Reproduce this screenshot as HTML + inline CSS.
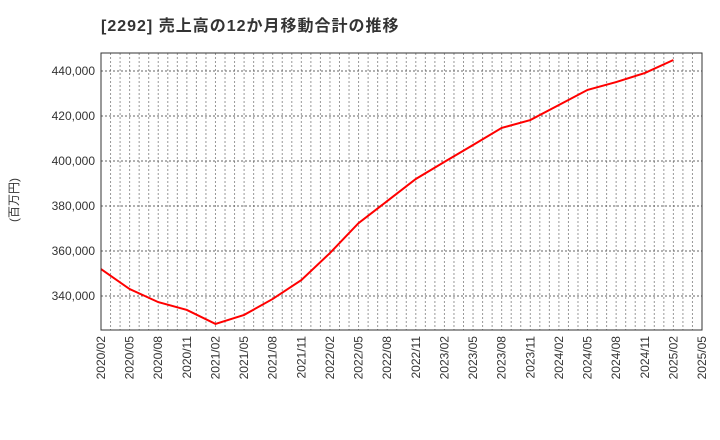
<!DOCTYPE html>
<html><head><meta charset="utf-8"><style>
body{margin:0;background:#fff;}
svg{display:block;font-family:"Liberation Sans","Noto Sans CJK JP",sans-serif;}
</style></head><body>
<svg id="chart" width="720" height="440">
<text x="101" y="31" font-size="16" letter-spacing="1" font-weight="bold" fill="#333">[2292]  売上高の12か月移動合計の推移</text>
<text transform="translate(18,200) rotate(-90)" font-size="12" fill="#333" text-anchor="middle">(百万円)</text>
<g id="grid"></g><g id="axes"></g><g id="series"></g>
<rect x="101" y="53" width="601" height="277" fill="none" stroke="#333" stroke-width="1"/>
</svg>
<script>
const xLabels=["2020/02","2020/05","2020/08","2020/11","2021/02","2021/05","2021/08","2021/11","2022/02","2022/05","2022/08","2022/11","2023/02","2023/05","2023/08","2023/11","2024/02","2024/05","2024/08","2024/11","2025/02","2025/05"];
const values=[352000,343100,337300,333800,327600,331600,338700,347100,359100,372400,382200,392000,399600,407100,414700,418200,424900,431600,435100,439100,444900];
const yTicks=[340000,360000,380000,400000,420000,440000];
const L=101,R=702,T=53,B=330,yMin=324900,yMax=448000;
const ns="http://www.w3.org/2000/svg";
const xs=i=>L+i*(R-L)/(xLabels.length-1);
const ys=v=>B-(v-yMin)/(yMax-yMin)*(B-T);
function mk(t,a,p){const e=document.createElementNS(ns,t);for(const k in a)e.setAttribute(k,a[k]);p.appendChild(e);return e;}
const g=document.getElementById('grid'),ax=document.getElementById('axes'),s=document.getElementById('series');
const nMonths=(xLabels.length-1)*3;
for(let m=1;m<nMonths;m++){const x=L+m*(R-L)/nMonths;
 const l=mk('line',{x1:x,x2:x,y1:T,y2:B,stroke:'#999','stroke-dasharray':'2,2','stroke-width':1},g);
 
 }
yTicks.forEach(v=>{const y=ys(v);
 const l=mk('line',{x1:L,x2:R,y1:y,y2:y,stroke:'#666','stroke-dasharray':'2,2','stroke-width':1},g);
 
 
 const t=mk('text',{x:L-6,y:y+4,'font-size':12,fill:'#333','text-anchor':'end'},ax);
 t.textContent=v.toLocaleString('en-US');
 
 });
xLabels.forEach((lb,i)=>{const x=xs(i);
 const t=mk('text',{transform:`translate(${x+4},${B+6}) rotate(-90)`,'font-size':12,fill:'#333','text-anchor':'end'},ax);
 t.textContent=lb;
 
 });
const p=mk('polyline',{points:values.map((v,i)=>xs(i)+','+ys(v)).join(' '),fill:'none',stroke:'#f00','stroke-width':2},s);


</script>
</body></html>
